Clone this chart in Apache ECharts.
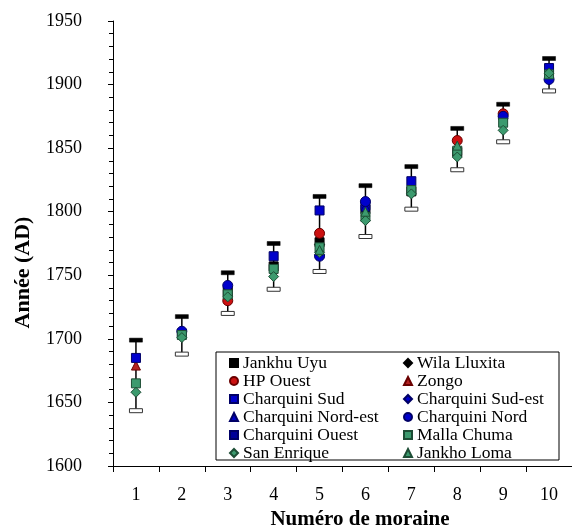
<!DOCTYPE html>
<html>
<head>
<meta charset="utf-8">
<script src="https://cdn.jsdelivr.net/npm/echarts@6/dist/echarts.min.js"></script>
<style>
html,body{margin:0;padding:0;background:#fff;}
#c{width:572px;height:526px;}
</style>
</head>
<body>
<div id="c"></div>
<script>
var categories = ['1','2','3','4','5','6','7','8','9','10'];
var errLow  = [1643.5, 1688, 1720, 1739, 1753, 1780.5, 1802, 1833, 1855, 1895];
var errHigh = [1699, 1717.5, 1752, 1775, 1812, 1820.5, 1835.5, 1865.5, 1884.5, 1920.5];

var jankhuUyu        = [null, null, 1737, 1757, 1776, 1802, 1816, 1847, null, null];
var wilaLluxita      = [null, null, null, null, 1774, null, null, null, null, null];
var hpOuest          = [null, null, 1730, null, 1783, null, null, 1856, 1877, null];
var zongo            = [1679, null, null, null, null, null, null, null, null, null];
var charquiniSud     = [1685, 1704, null, 1765, 1801, 1805, 1824, null, null, 1913];
var charquiniSudEst  = [null, null, null, null, 1766, null, null, null, 1873, null];
var charquiniNordEst = [null, null, null, null, null, 1804, null, null, null, null];
var charquiniNord    = [null, 1706, 1742, null, 1765, 1808, null, null, 1875, 1904];
var charquiniOuest   = [null, null, null, null, 1768, null, null, null, null, null];
var mallaChuma       = [1665, 1703, 1735, 1755, 1772, 1796, 1817, 1848, 1870, 1908];
var sanEnrique       = [1658, 1701, 1733, 1749, 1768, 1793, 1814, 1843, 1864, 1909];
var jankhoLoma       = [null, null, null, null, 1770, 1800, null, 1852, null, null];

var yTicks = {min: 1600, max: 1950, interval: 50};

var BLACK = '#000000', RED = '#cc1111', DRED = '#b22222', BLUE = '#0000cc', GREEN = '#3c9a6e';
var seriesDefs = [
  {name: 'Jankhu Uyu', data: jankhuUyu, symbol: 'rect', size: 9, color: BLACK, border: '#000'},
  {name: 'Wila Lluxita', data: wilaLluxita, symbol: 'diamond', size: 10, color: BLACK, border: '#000'},
  {name: 'HP Ouest', data: hpOuest, symbol: 'circle', size: 10, color: RED, border: '#6a0000'},
  {name: 'Zongo', data: zongo, symbol: 'triangle', size: 9, color: DRED, border: '#6a0000'},
  {name: 'Charquini Sud', data: charquiniSud, symbol: 'rect', size: 9, color: BLUE, border: '#000066'},
  {name: 'Charquini Sud-est', data: charquiniSudEst, symbol: 'diamond', size: 10, color: BLUE, border: '#000066'},
  {name: 'Charquini Nord-est', data: charquiniNordEst, symbol: 'triangle', size: 9, color: BLUE, border: '#000066'},
  {name: 'Charquini Nord', data: charquiniNord, symbol: 'circle', size: 10, color: BLUE, border: '#000066'},
  {name: 'Charquini Ouest', data: charquiniOuest, symbol: 'rect', size: 6, color: '#000099', border: '#000066'},
  {name: 'Malla Chuma', data: mallaChuma, symbol: 'rect', size: 9, color: GREEN, border: '#1d4d35'},
  {name: 'San Enrique', data: sanEnrique, symbol: 'diamond', size: 10, color: GREEN, border: '#1d4d35'},
  {name: 'Jankho Loma', data: jankhoLoma, symbol: 'triangle', size: 9, color: GREEN, border: '#1d4d35'}
];

var FONT = 'Liberation Serif';

var errData = categories.map(function (c, i) { return [i, errLow[i], errHigh[i]]; });

var series = [{
  type: 'custom',
  name: 'err',
  data: errData,
  encode: {x: 0, y: [1, 2]},
  z: 1,
  silent: true,
  renderItem: function (params, api) {
    var x = api.value(0);
    var lo = api.coord([x, api.value(1)]);
    var hi = api.coord([x, api.value(2)]);
    var w = 13;
    return {
      type: 'group',
      children: [
        {type: 'line', shape: {x1: lo[0], y1: lo[1], x2: hi[0], y2: hi[1]}, style: {stroke: '#000', lineWidth: 1.5}},
        {type: 'rect', shape: {x: hi[0] - w / 2, y: hi[1] - 2, width: w, height: 4}, style: {fill: '#000', stroke: '#000', lineWidth: 0.5}},
        {type: 'rect', shape: {x: lo[0] - w / 2, y: lo[1] - 2, width: w, height: 4}, style: {fill: '#fff', stroke: '#333', lineWidth: 1}}
      ]
    };
  }
}];

seriesDefs.forEach(function (d) {
  series.push({
    type: 'scatter',
    name: d.name,
    z: 3,
    symbol: d.symbol,
    symbolSize: d.size,
    data: d.data.map(function (v) { return v === null ? '-' : v; }),
    itemStyle: {color: d.color, borderColor: d.border, borderWidth: 1, opacity: 1}
  });
});

var legendBase = {
  orient: 'vertical',
  top: 349,
  itemWidth: 8,
  itemHeight: 8,
  itemGap: 0,
  selectedMode: false,
  textStyle: {fontFamily: FONT, fontSize: 17.5, color: '#000', lineHeight: 18}
};

var chart = echarts.init(document.getElementById('c'));
chart.setOption({
  animation: false,
  backgroundColor: '#fff',
  textStyle: {fontFamily: FONT},
  grid: {left: 113, right: 0, top: 21, bottom: 60, containLabel: false, outerBoundsMode: 'none'},
  xAxis: {
    type: 'category',
    data: categories,
    boundaryGap: true,
    name: 'Numéro de moraine',
    nameLocation: 'middle',
    nameGap: 40,
    nameTextStyle: {fontFamily: FONT, fontSize: 21, fontWeight: 'bold', color: '#000', padding: [0, 0, 0, 35]},
    axisLine: {lineStyle: {color: '#000', width: 1}},
    axisTick: {show: true, alignWithLabel: false, length: 6, lineStyle: {color: '#000'}},
    axisLabel: {fontFamily: FONT, fontSize: 18, color: '#000', margin: 20},
    splitLine: {show: false}
  },
  yAxis: {
    type: 'value',
    min: yTicks.min,
    max: yTicks.max,
    interval: yTicks.interval,
    name: 'Année (AD)',
    nameLocation: 'middle',
    nameGap: 79,
    nameTextStyle: {fontFamily: FONT, fontSize: 22, fontWeight: 'bold', color: '#000', padding: [0, 58, 0, 0]},
    axisLine: {show: true, lineStyle: {color: '#000', width: 1}},
    axisTick: {show: true, length: 5, lineStyle: {color: '#000'}},
    minorTick: {show: true, splitNumber: 5, length: 4, lineStyle: {color: '#000'}},
    axisLabel: {fontFamily: FONT, fontSize: 18, color: '#000', margin: 31, formatter: function (v) { return String(v); }},
    splitLine: {show: false}
  },
  legend: [
    Object.assign({}, legendBase, {left: 224, data: ['Jankhu Uyu', 'HP Ouest', 'Charquini Sud', 'Charquini Nord-est', 'Charquini Ouest', 'San Enrique']}),
    Object.assign({}, legendBase, {left: 398, data: ['Wila Lluxita', 'Zongo', 'Charquini Sud-est', 'Charquini Nord', 'Malla Chuma', 'Jankho Loma']})
  ],
  graphic: [{
    type: 'rect',
    z: 0,
    shape: {x: 216, y: 352, width: 343, height: 108},
    style: {fill: '#fff', stroke: '#000', lineWidth: 1}
  }],
  series: series
});
</script>
</body>
</html>
